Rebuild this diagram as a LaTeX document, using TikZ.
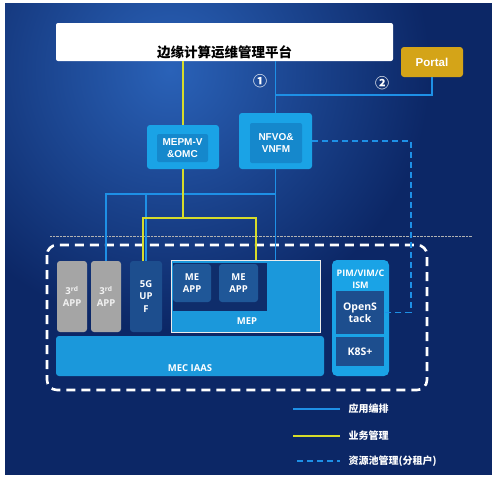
\documentclass[tikz,border=0pt]{standalone}
\usepackage{fontspec}
\setmainfont{Liberation Sans}
\newfontfamily\cjk{Noto Sans CJK SC}
\newfontfamily\segoe{Open Sans}
\usetikzlibrary{positioning}

\definecolor{bgblue}{HTML}{0C2766}
\definecolor{glow}{HTML}{2A62B8}
\definecolor{skyblue}{HTML}{1AA3E6}
\definecolor{midblue}{HTML}{1588CC}
\definecolor{iaasblue}{HTML}{1B98DB}
\definecolor{deepblue}{HTML}{1D4E8E}
\definecolor{meappblue}{HTML}{1F5798}
\definecolor{navy}{HTML}{0F2D6B}
\definecolor{appgray}{HTML}{A5A5A5}
\definecolor{gold}{HTML}{D4A418}
\definecolor{orch}{HTML}{1E90E6}
\definecolor{mgmt}{HTML}{D6DC2A}

\begin{document}
\begin{tikzpicture}[x=1pt, y=-1pt,
    outerbox/.style={fill=skyblue, rounded corners=3pt, inner sep=0pt},
    innerbox/.style={fill=midblue, rounded corners=2pt, inner sep=0pt, text=white,
        align=center, font=\bfseries\fontsize{10}{11.5}\selectfont},
    tile/.style={rounded corners=3pt, inner sep=0pt, text=white, align=center,
        font=\segoe\bfseries\fontsize{9.5}{12}\selectfont},
    orchline/.style={orch, line width=1.4pt},
    mgmtline/.style={mgmt, line width=1.4pt},
    poolline/.style={orch, line width=1.4pt, dash pattern=on 6pt off 4pt},
    legendtext/.style={anchor=west, text=white, inner sep=0pt, xshift=8pt,
        font=\cjk\bfseries\fontsize{10}{12}\selectfont}]
                \useasboundingbox (0,0) rectangle (496,479);
                \fill [white] (0,0) rectangle (496,479);
                \fill [bgblue] (5,3) rectangle (492,475);
                \begin{scope}
                    \clip (5,3) rectangle (492,475);
                    \shade [inner color=glow, outer color=bgblue] (170,70) circle (260);
                \end{scope}
                \draw [densely dotted, gray!60] (50,236) -- (472,236);
%
                \node [fill=white, rounded corners=2pt, minimum width=337pt, minimum height=38pt] (title) at (224.5,42) {};
                \node [font=\cjk\bfseries\fontsize{13.5}{15}\selectfont] (titletext) at (224.5,52) {边缘计算运维管理平台};
                \node [fill=gold, rounded corners=3pt, text=white, minimum width=62pt, minimum height=30pt,
                    font=\bfseries\fontsize{11.5}{13}\selectfont] (portal) at (432,62) {Portal};
%
                \node [outerbox, minimum width=72pt, minimum height=44pt] (mepm) at (183,147) {};
                \node [innerbox, minimum width=51pt, minimum height=28pt] (mepmtext) at (182.5,148) {MEPM-V\\\&OMC};
                \node [outerbox, minimum width=73pt, minimum height=56pt] (nfvo) at (275.5,141) {};
                \node [innerbox, minimum width=52pt, minimum height=40pt] (nfvotext) at (276,143) {NFVO\&\\VNFM};
%
                \draw [white, line width=2.6pt, dash pattern=on 9pt off 6pt, rounded corners=10pt] (47,245) rectangle (427,390);
                \node [tile, fill=appgray, text=white!90!gray, minimum width=30pt, minimum height=71pt] (app1) at (72,296.5) {3\textsuperscript{rd}\\APP};
                \node [tile, fill=appgray, text=white!90!gray, minimum width=30pt, minimum height=71pt] (app2) at (106,296.5) {3\textsuperscript{rd}\\APP};
                \node [tile, fill=deepblue, minimum width=32pt, minimum height=71pt,
                    font=\segoe\bfseries\fontsize{9.5}{12.5}\selectfont] (upf) at (146,296.5) {5G\\UP\\F};
                \node [fill=iaasblue, draw=white!85!gray, line width=0.8pt, minimum width=149pt, minimum height=72pt] (mep) at (245.5,296) {};
                \fill [navy] (173,263) rectangle (267,311);
                \node [tile, fill=meappblue, minimum width=38pt, minimum height=38pt] (meapp1) at (192,283) {ME\\APP};
                \node [tile, fill=meappblue, minimum width=39pt, minimum height=38pt] (meapp2) at (238.5,283) {ME\\APP};
                \node [tile] (meptext) at (247,321) {MEP};
                \node [tile, fill=iaasblue, minimum width=268pt, minimum height=40pt] (iaas) at (190,356) {};
                \node [tile] (iaastext) at (190,368) {MEC IAAS};
%
                \node [tile, fill=skyblue, rounded corners=5pt, minimum width=57pt, minimum height=116pt] (pim) at (360.5,318) {};
                \node [tile, font=\segoe\bfseries\fontsize{9}{12}\selectfont] (pimtext) at (360.5,279) {PIM/VIM/C\\ISM};
                \node [tile, fill=deepblue, rounded corners=0pt, minimum width=48pt, minimum height=43pt,
                    font=\segoe\bfseries\fontsize{10.5}{12.5}\selectfont] (openstack) at (360,312.5) {OpenS\\tack};
                \node [tile, fill=deepblue, rounded corners=0pt, minimum width=48pt, minimum height=29pt,
                    font=\segoe\bfseries\fontsize{10.5}{12.5}\selectfont] (k8s) at (360,351.5) {K8S+};
%
                \coordinate (split) at (276,95);
                \coordinate (bus) at (276,194);
                \coordinate (ylleft) at (143,218);
                \coordinate (ylright) at (256,218);
                \coordinate (poolcorner) at (411,141);
                \draw [orchline] (title.south -| nfvo.north) -- (nfvo.north);
                \draw [orchline] (split) -| (portal.south);
                \node [text=white, font=\cjk\bfseries\fontsize{14}{15}\selectfont] (one) at (260,81) {①};
                \node [text=white, font=\cjk\bfseries\fontsize{14}{15}\selectfont] (two) at (382,83) {②};
                \draw [orchline] (nfvo.south) -- (nfvo.south |- mep.north);
                \draw [orchline] (bus) -| (app2.north);
                \draw [orchline] (upf.north |- bus) -- (upf.north);
%
                \draw [mgmtline] (title.south -| mepm.north) -- (mepm.north);
                \draw [mgmtline] (mepm.south) -- (mepm.south |- ylleft);
                \draw [mgmtline] (ylleft |- upf.north) -- (ylleft) -- (ylright) -- (ylright |- mep.north);
%
                \draw [poolline] (nfvo.east) -- (poolcorner) |- (openstack.east);
%
                \coordinate (lgorch) at (293,409);
                \coordinate (lgmgmt) at (293,436);
                \coordinate (lgpool) at (297,461);
                \draw [orchline] (lgorch) -- ++(47,0) node [legendtext] (lgorchtext) {应用编排};
                \draw [mgmtline] (lgmgmt) -- ++(47,0) node [legendtext] (lgmgmttext) {业务管理};
                \draw [poolline] (lgpool) -- ++(43,0) node [legendtext] (lgpooltext) {资源池管理(分租户)};
            \end{tikzpicture}
\end{document}
